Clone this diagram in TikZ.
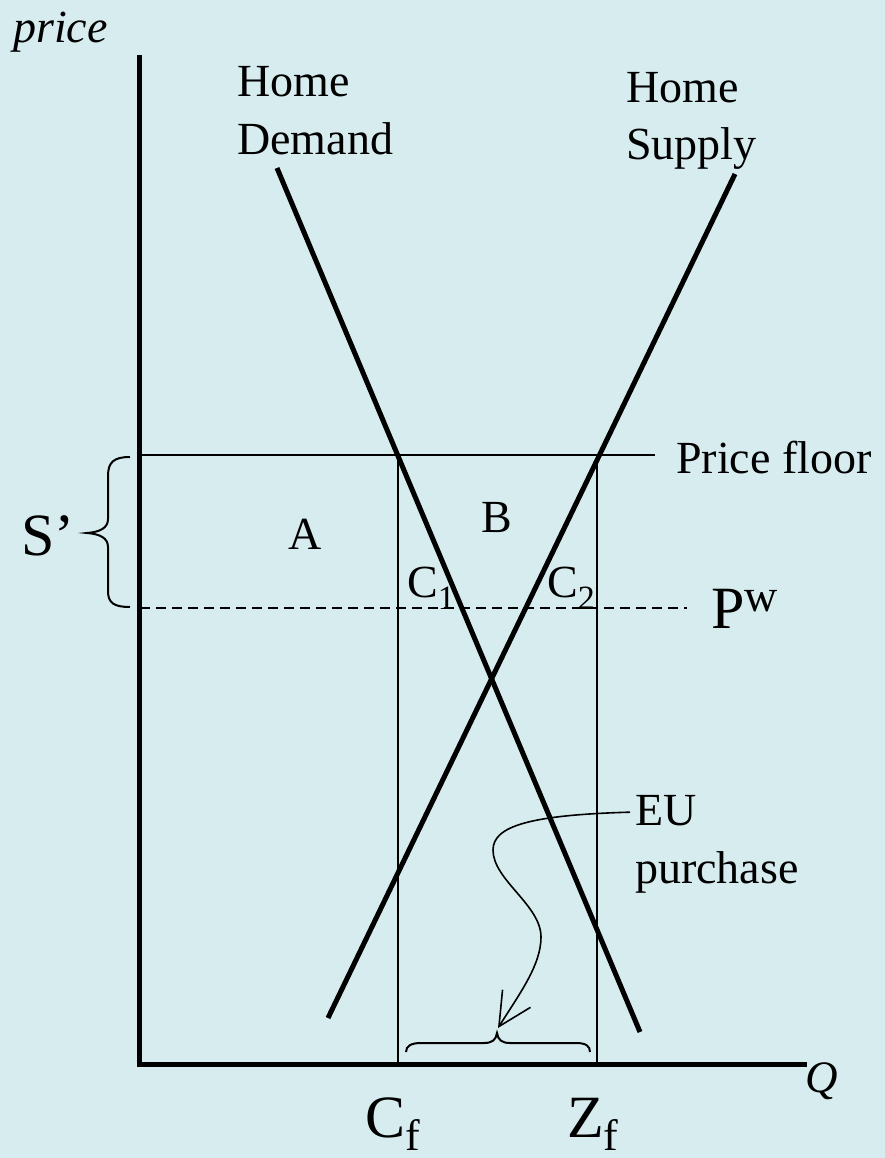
\documentclass[tikz,border=0pt]{standalone}
\usepackage{fontspec}
\setmainfont{Liberation Serif}
\usetikzlibrary{arrows.meta}
\definecolor{bg}{HTML}{D7ECEF}
\begin{document}
\begin{tikzpicture}[x=1pt,y=-1pt,
  lbl/.style={inner sep=0pt, anchor=base west, font=\fontsize{46}{55}\selectfont},
  big/.style={inner sep=0pt, anchor=base west, font=\fontsize{60}{70}\selectfont},
  ital/.style={inner sep=0pt, anchor=base west, font=\fontsize{46}{55}\selectfont\itshape},
  axisline/.style={line width=5pt},
  curveline/.style={line width=5pt},
  levelline/.style={line width=2pt},
  dashline/.style={line width=2.6pt, dash pattern=on 10pt off 6pt},
  thinline/.style={line width=1.3pt},
  bracepath/.style={line width=2pt},
  pointer/.style={line width=1.6pt, -{Straight Barb[length=33pt,width=33pt,line width=1.6pt]}}
]
\fill[bg] (0,0) rectangle (885,1158);
\useasboundingbox (0,0) rectangle (885,1158);

% axes
\coordinate (Ytop) at (139.5,55);
\coordinate (O) at (139.5,1064);
\coordinate (Ostart) at (137,1064);
\coordinate (Xend) at (807,1064);
\draw[axisline] (Ytop) -- (O);
\draw[axisline] (Ostart) -- (Xend);

% demand and supply
\coordinate (D1) at (277,168);
\coordinate (D2) at (640,1032);
\coordinate (S1) at (735,174);
\coordinate (S2) at (328,1018);
\draw[curveline] (D1) -- (D2);
\draw[curveline] (S1) -- (S2);

% price floor and world price
\coordinate (PF1) at (140,455);
\coordinate (PF2) at (655,455);
\draw[levelline] (PF1) -- (PF2);
\coordinate (PW1) at (140,608);
\coordinate (PW2) at (687,608);
\draw[dashline] (PW1) -- (PW2);

% verticals
\coordinate (CfT) at (398,455);
\coordinate (CfB) at (398,1064);
\coordinate (ZfT) at (597,455);
\coordinate (ZfB) at (597,1064);
\draw[thinline] (CfT) -- (CfB);
\draw[thinline] (ZfT) -- (ZfB);

% brace S'
\draw[bracepath] (130,457) .. controls (114,457) and (108,462) .. (108,476)
  -- (108,519) .. controls (108,528) and (100,532) .. (87,533)
  .. controls (100,534) and (108,538) .. (108,547)
  -- (108,591) .. controls (108,603) and (114,607) .. (130,607);

% bottom brace
\draw[bracepath] (406,1052) .. controls (406,1046) and (411,1043) .. (421,1043)
  -- (484,1043) .. controls (492,1043) and (496,1040) .. (497,1033)
  .. controls (498,1040) and (502,1043) .. (510,1043)
  -- (576,1043) .. controls (586,1043) and (590,1046) .. (590,1052);

% labels
\node[ital] (price) at (13,43) {price};
\node[lbl] (hd1) at (237,97) {Home};
\node[lbl] (hd2) at (237,155) {Demand};
\node[lbl] (hs1) at (626,103) {Home};
\node[lbl] (hs2) at (626,160) {Supply};
\node[lbl] (pfl) at (676,473) {Price floor};
\node[lbl] (A) at (288,549) {A};
\node[lbl] (B) at (481,532) {B};
\node[lbl] (C1) at (407,597) {C\raisebox{-12pt}{\fontsize{34}{40}\selectfont 1}};
\node[lbl] (C2) at (547,597) {C\raisebox{-12pt}{\fontsize{34}{40}\selectfont 2}};
\node[big] (Sp) at (21,555) {S’};
\node[big] (Pw) at (711,628) {P\raisebox{17pt}{\fontsize{46}{55}\selectfont w}};
\node[lbl] (eu1) at (635,825) {EU};
\node[lbl] (eu2) at (635,883) {purchase};
\node[big] (Cf) at (365,1137) {C\raisebox{-13pt}{\fontsize{44}{50}\selectfont f}};
\node[big] (Zf) at (567,1137) {Z\raisebox{-13pt}{\fontsize{44}{50}\selectfont f}};
\node[ital, font=\fontsize{45}{54}\selectfont\itshape] (Q) at (805,1092) {Q};

% EU purchase pointer
\coordinate (tip) at (498,1028);
\draw[pointer] (eu1.west) ++(-5,2)
  .. controls (530,815) and (493,826) .. (493,850)
  .. controls (493,880) and (541,905) .. (541,937)
  .. controls (541,965) and (520,993) .. (tip);
\end{tikzpicture}
\end{document}
